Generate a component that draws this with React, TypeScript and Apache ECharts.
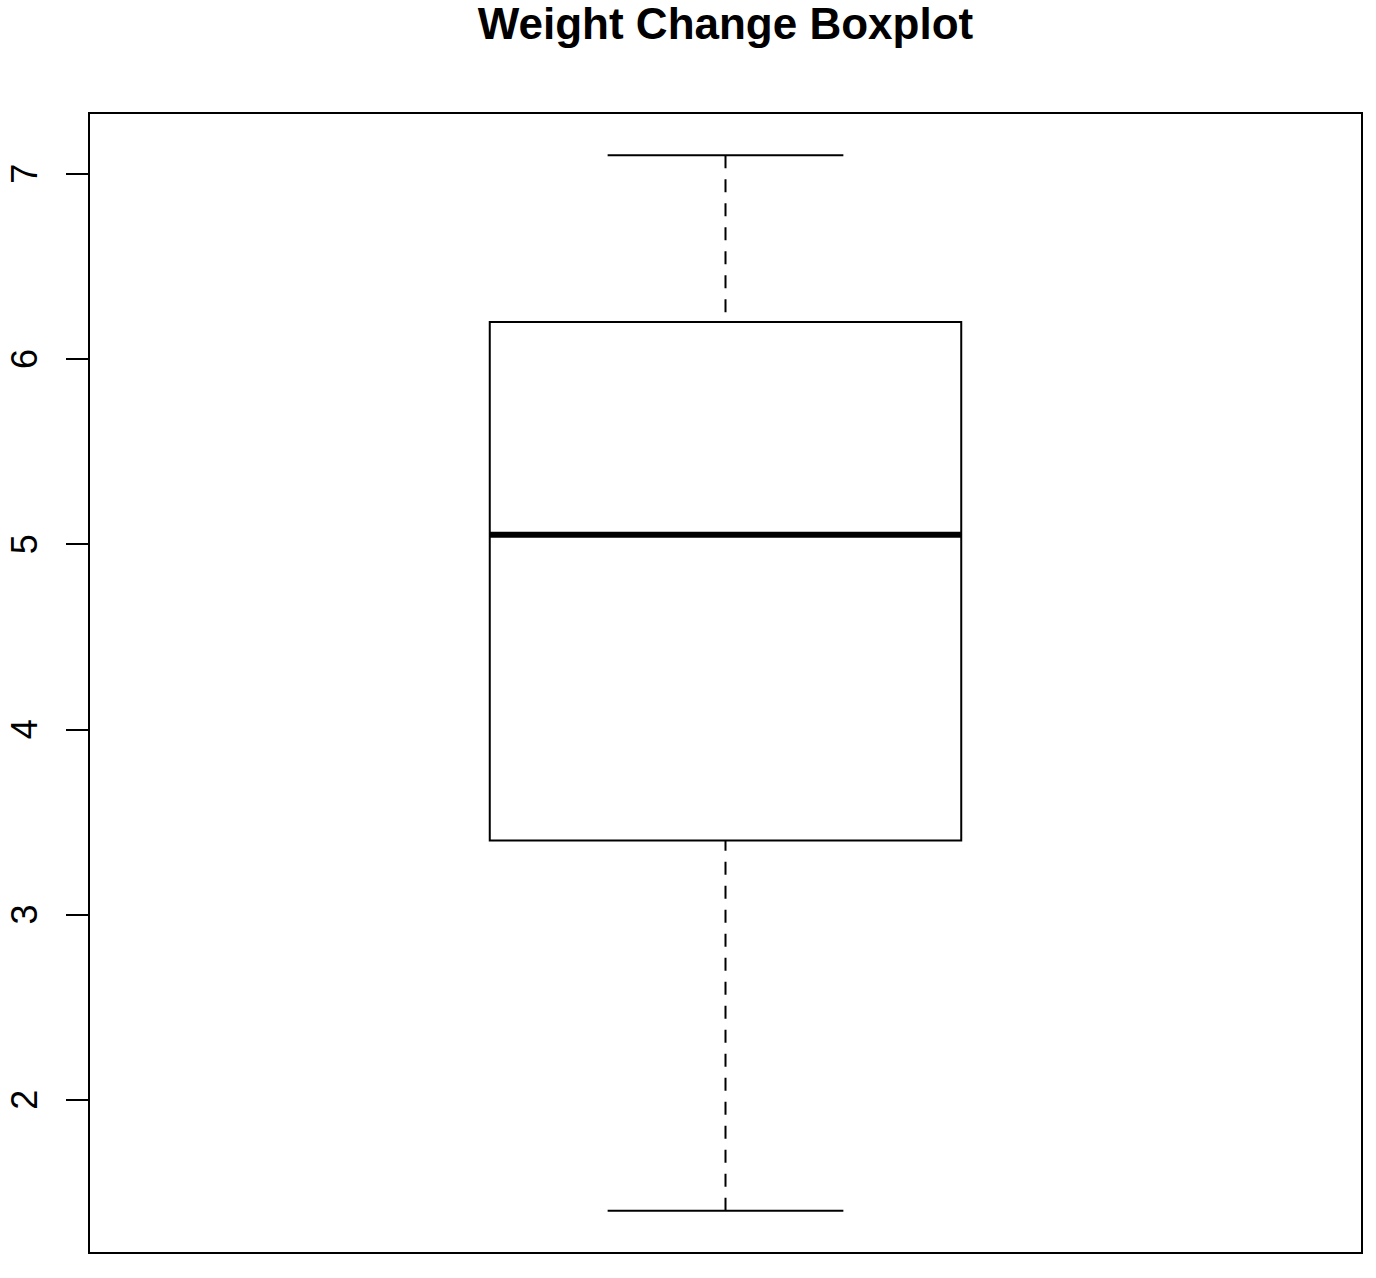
import * as echarts from "echarts";
import { useEffect, useRef } from "react";

// five-number summary
const groups = ["Weight Change"];
const lowerWhisker = [1.4];
const lowerQuartile = [3.4];
const medians = [5.05];
const upperQuartile = [6.2];
const upperWhisker = [7.1];
const yTicks = [2, 3, 4, 5, 6, 7];

const FONT = "'Liberation Sans', Arial, Helvetica, sans-serif";
const BOX_HALF = 0.2; // boxwex 0.8 -> half-width 0.4/2
const CAP_HALF = 0.1; // staplewex 0.5

export default function App() {
  const chartRef = useRef<HTMLDivElement | null>(null);

  useEffect(() => {
    if (!chartRef.current) return;
    const chart = echarts.init(chartRef.current, null, { renderer: "svg" });

    const data = groups.map((_, i) => [
      i + 1,
      lowerWhisker[i],
      lowerQuartile[i],
      medians[i],
      upperQuartile[i],
      upperWhisker[i],
    ]);

    const option: echarts.EChartsOption = {
      animation: false,
      backgroundColor: "#fff",
      graphic: [
        {
          type: "text",
          x: 725.5,
          y: 23.5,
          style: {
            text: "Weight Change Boxplot",
            fontFamily: FONT,
            fontSize: 44,
            fontWeight: "bold",
            fill: "#000",
            align: "center",
            verticalAlign: "middle",
          },
        },
      ],
      grid: {
        left: 89,
        top: 113,
        right: 14,
        bottom: 25,
        show: true,
        borderColor: "#000",
        borderWidth: 2,
        backgroundColor: "transparent",
      },
      xAxis: {
        type: "value",
        min: 0.46,
        max: 1.54,
        show: false,
      },
      yAxis: {
        type: "value",
        min: 1.172,
        max: 7.328,
        axisLine: { show: false },
        splitLine: { show: false },
        axisTick: {
          show: true,
          length: 23,
          customValues: yTicks,
          lineStyle: { color: "#000", width: 2 },
        },
        axisLabel: {
          customValues: yTicks,
          rotate: 90,
          margin: 65,
          align: "center",
          verticalAlign: "middle",
          fontSize: 36,
          fontFamily: FONT,
          color: "#000",
        },
      },
      series: [
        {
          type: "custom",
          name: groups[0],
          data,
          renderItem: (_params: any, api: any) => {
            const x = api.value(0);
            const cx = api.coord([x, 0])[0];
            const boxL = api.coord([x - BOX_HALF, 0])[0];
            const boxR = api.coord([x + BOX_HALF, 0])[0];
            const capL = api.coord([x - CAP_HALF, 0])[0];
            const capR = api.coord([x + CAP_HALF, 0])[0];
            const lo = api.coord([x, api.value(1)])[1];
            const q1 = api.coord([x, api.value(2)])[1];
            const med = api.coord([x, api.value(3)])[1];
            const q3 = api.coord([x, api.value(4)])[1];
            const hi = api.coord([x, api.value(5)])[1];
            const solid = { stroke: "#000", lineWidth: 2 };
            const dashed = { stroke: "#000", lineWidth: 2, lineDash: [13, 11] };
            return {
              type: "group",
              children: [
                // whiskers run from the staple toward the box, as R draws them
                { type: "line", shape: { x1: cx, y1: hi, x2: cx, y2: q3 }, style: dashed },
                { type: "line", shape: { x1: cx, y1: lo, x2: cx, y2: q1 }, style: dashed },
                { type: "line", shape: { x1: capL, y1: hi, x2: capR, y2: hi }, style: solid },
                { type: "line", shape: { x1: capL, y1: lo, x2: capR, y2: lo }, style: solid },
                {
                  type: "rect",
                  shape: { x: boxL, y: q3, width: boxR - boxL, height: q1 - q3 },
                  style: { fill: "#fff", stroke: "#000", lineWidth: 2 },
                },
                {
                  type: "line",
                  shape: { x1: boxL, y1: med, x2: boxR, y2: med },
                  style: { stroke: "#000", lineWidth: 6 },
                },
              ],
            };
          },
        },
      ],
    };

    chart.setOption(option);
    return () => chart.dispose();
  }, []);

  return (
    <div
      ref={chartRef}
      style={{ position: "fixed", left: 0, top: 0, width: 1376, height: 1278 }}
    />
  );
}
